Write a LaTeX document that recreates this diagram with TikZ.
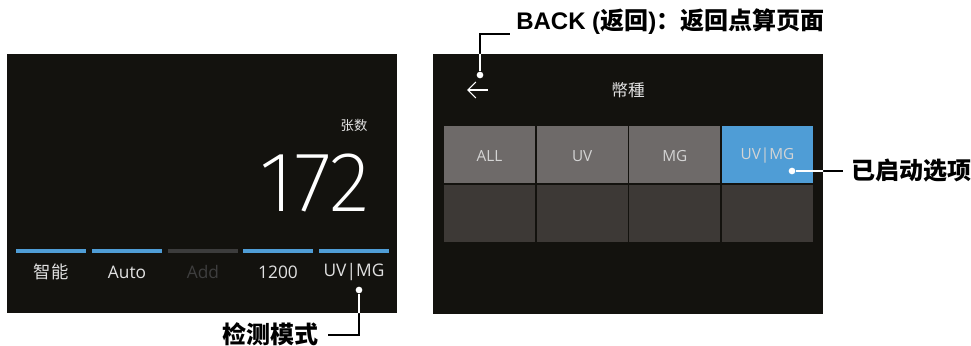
\documentclass[tikz,border=0pt]{standalone}
\usepackage{fontspec}
\usetikzlibrary{arrows.meta}
\setmainfont{Open Sans}
\newfontfamily\cjk{Noto Sans CJK SC}
\newfontfamily\latinb{Liberation Sans}
\newfontfamily\thinfont{Fira Sans ExtraLight}

\definecolor{screenbg}{RGB}{19,18,14}
\definecolor{barblue}{RGB}{79,157,214}
\definecolor{bargray}{RGB}{60,60,60}
\definecolor{txtgray}{RGB}{225,225,225}
\definecolor{offgray}{RGB}{62,62,62}
\definecolor{cellgray}{RGB}{110,106,105}
\definecolor{celldark}{RGB}{61,57,54}
\definecolor{celltxt}{RGB}{212,212,212}

\tikzset{
  lbl/.style={inner sep=0pt,font=\fontsize{11.5}{12}\selectfont},
  menu/.style={inner sep=0pt,font=\fontsize{13}{14}\selectfont},
  note/.style={inner sep=0pt,font=\cjk\bfseries\fontsize{18}{19}\selectfont},
  lead/.style={line width=1pt},
  dot/.style={circle,fill=white,inner sep=0pt,minimum size=5pt}
}

\begin{document}
\begin{tikzpicture}[x=0.75pt,y=-0.75pt]
%\draw[help lines] (0,0) grid (971,346);
\useasboundingbox (0,0) rectangle (971,346);

% left screen
\path[fill=screenbg] (7,54) coordinate (ls1) rectangle (397,313) coordinate (ls2);
\foreach \x/\c/\t/\f in {16/barblue/{\cjk 智能}/txtgray, 92/barblue/Auto/txtgray, 168/bargray/Add/offgray, 243/barblue/1200/txtgray, 319/barblue/UV|MG/txtgray}
{
  \fill[\c] (\x,249) rectangle +(70,4);
  \node[menu,text=\f] (m\x) at (\x+35,272) {\t};
}
\node[inner sep=0pt,text=txtgray,font=\cjk\fontsize{10}{11}\selectfont] (zhangshu) at (354,125) {张数};
\node[inner sep=0pt,anchor=east,text=white,font=\thinfont\fontsize{64}{64}\selectfont] (count) at (370,183) {172};

% right screen
\path[fill=screenbg] (433,54) coordinate (rs1) rectangle (823,314) coordinate (rs2);
\coordinate (backtail) at (488,90);
\coordinate (backtip) at (467,90);
\draw[white,line width=0.8pt,-{Straight Barb[length=6pt,width=12pt]}] (backtail) -- (backtip);
\node[inner sep=0pt,text=txtgray,font=\cjk\fontsize{12.5}{13}\selectfont] (title) at (628,90) {幣種};
\foreach \i/\t/\c in {0/ALL/cellgray, 1/UV/cellgray, 2/MG/cellgray, 3/UV|MG/barblue}
{
  \fill[\c] (444+\i*92.67,126) rectangle +(91,57);
  \fill[celldark] (444+\i*92.67,185) rectangle +(91,57);
  \node[lbl,text=celltxt] (c\i) at (489.5+\i*92.67,156) {\t};
}

% leaders
\node[dot] (uvdot) at (359,290) {};
\coordinate (modeend) at (328,335);
\node[note,anchor=east] (mode) at (319,334) {检测模式};
\node[dot] (backdot) at (480,75) {};
\coordinate (backend) at (510,34);
\node[note,anchor=west] (back) at (516,22) {{\latinb BACK (}返回{\latinb )}：返回点算页面};
\node[dot] (seldot) at (792,171) {};
\coordinate (selend) at (843,171);
\node[note,anchor=west] (sel) at (851,171) {已启动选项};

\draw[lead] (uvdot) |- (modeend);
\draw[lead] (backdot) |- (backend);
\draw[lead] (seldot) -- (selend);
\begin{scope}
  \clip (ls1) rectangle (ls2) (rs1) rectangle (rs2);
  \draw[lead,white] (uvdot) |- (modeend);
  \draw[lead,white] (backdot) |- (backend);
  \draw[lead,white] (seldot) -- (selend);
\end{scope}
\end{tikzpicture}
\end{document}
